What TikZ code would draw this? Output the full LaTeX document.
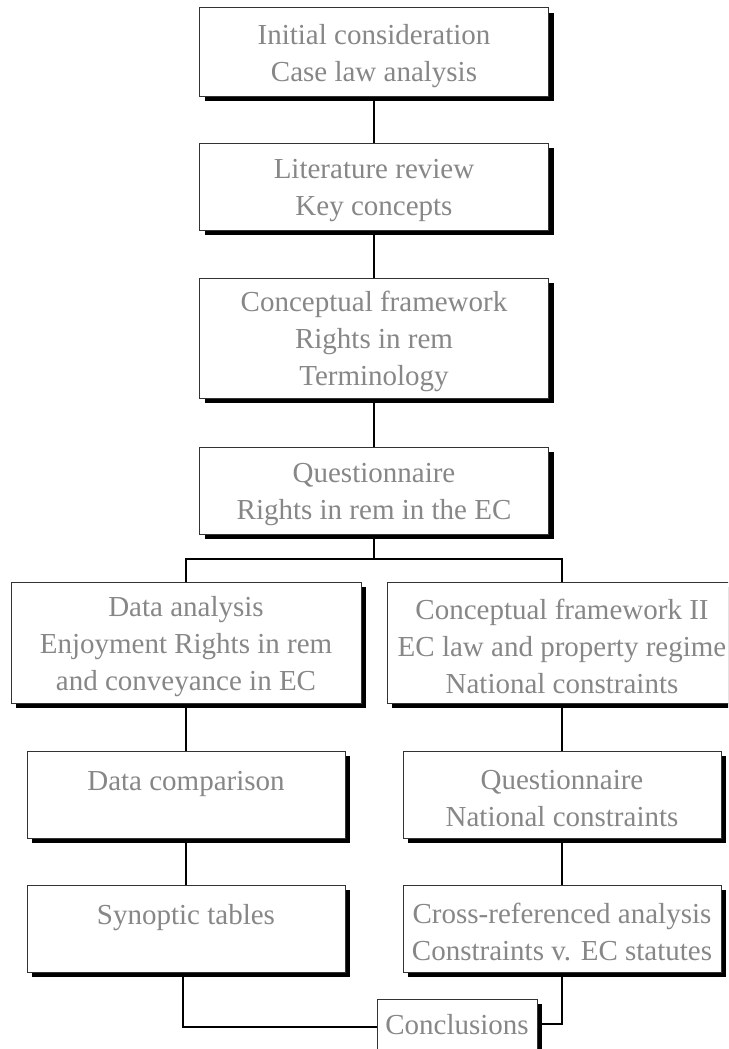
\documentclass[tikz,border=0pt]{standalone}
\usepackage{fontspec}
\setmainfont{Liberation Serif}
\usetikzlibrary{shadows}
\definecolor{labelgray}{HTML}{878787}
\definecolor{edgegray}{HTML}{333333}
% raises the first line so the text block sits a little lower in its box
\newcommand{\firstline}{\rule{0pt}{28pt}}
\tikzset{
  stage/.style 2 args={draw=edgegray, line width=1pt, fill=white,
    text=labelgray, align=center, inner sep=0pt,
    font=\fontsize{29}{37}\selectfont,
    minimum width=#1, minimum height=#2,
    drop shadow={shadow xshift=5pt, shadow yshift=-5pt, fill=black, opacity=1}},
  link/.style={draw=black, line width=1.3pt}
}
\begin{document}
\begin{tikzpicture}[x=1pt,y=-1pt]
\useasboundingbox (0,0) rectangle (728,1049);
\clip (0,0) rectangle (728,1049);
% central column
\node[stage={349pt}{88pt}]  (init)  at (374,52)    {\firstline Initial consideration\\Case law analysis};
\node[stage={349pt}{87pt}]  (lit)   at (374,186.5) {\firstline Literature review\\Key concepts};
\node[stage={349pt}{120pt}] (frame) at (374,338)   {\firstline Conceptual framework\\Rights in rem\\Terminology};
\node[stage={349pt}{87pt}]  (quest) at (374,490.5) {\firstline Questionnaire\\Rights in rem in the EC};
% left branch
\node[stage={350pt}{121pt}] (data)  at (186,642.5) {\firstline Data analysis\\Enjoyment Rights in rem\\and conveyance in EC};
\node[stage={318pt}{87pt}]  (comp)  at (186,794.5) {\firstline Data comparison\\~};
\node[stage={318pt}{87pt}]  (syn)   at (186,928.5) {\firstline Synoptic tables\\~};
% right branch
\node[stage={350pt}{121pt}] (frame2) at (562,642.5) {\firstline Conceptual framework II\\EC law and property regime\\National constraints};
\node[stage={318pt}{87pt}]  (natq)   at (562,794.5) {\firstline Questionnaire\\National constraints};
\node[stage={318pt}{87pt}]  (cross)  at (562,928.5) {\firstline Cross-referenced analysis\\Constraints v. EC statutes};
% end point
\node[stage={160pt}{52pt}]  (concl)  at (457,1025)  {Conclusions};
\coordinate (split) at (374,559);
% connectors
\draw[link] (init.south) -- (lit.north);
\draw[link] (lit.south) -- (frame.north);
\draw[link] (frame.south) -- (quest.north);
\draw[link] (quest.south) -- (split);
\draw[link] (data.north) |- (split) -| (frame2.north);
\draw[link] (data.south) -- (comp.north);
\draw[link] (comp.south) -- (syn.north);
\draw[link] (frame2.south) -- (natq.north);
\draw[link] (natq.south) -- (cross.north);
\draw[link] ([xshift=-3pt]syn.south) |- ([yshift=-2pt]concl.west);
\draw[link] (cross.south) |- ([yshift=1pt,xshift=4pt]concl.east);
\end{tikzpicture}
\end{document}
